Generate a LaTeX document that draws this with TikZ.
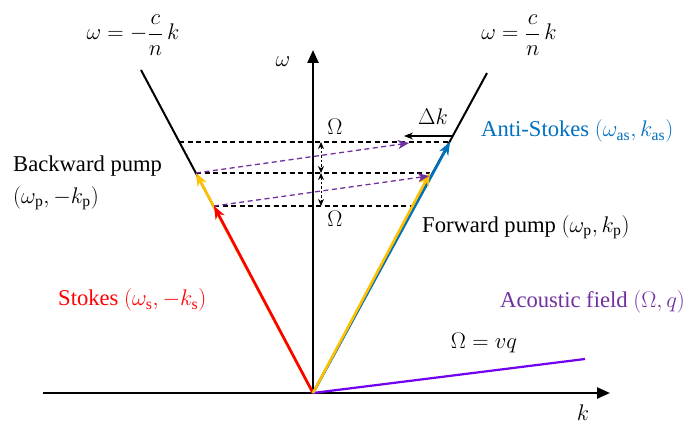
\documentclass[tikz,border=0pt]{standalone}
\usepackage{amsmath}
\usepackage{fontspec}
\setmainfont{Liberation Serif}
\usetikzlibrary{arrows.meta}
\definecolor{cred}{RGB}{255,0,0}
\definecolor{cyel}{RGB}{255,192,0}
\definecolor{cblue}{RGB}{0,112,192}
\definecolor{cpur}{RGB}{112,48,160}
\definecolor{cvio}{RGB}{112,0,240}
\tikzset{
  lbl/.style={inner sep=0pt,font=\fontsize{20.74}{25}\selectfont,scale=1.09,transform shape},
  axisline/.style={line width=2.4pt,-{Triangle[length=13pt,width=11pt]}},
  lightline/.style={line width=2pt},
  vec/.style={line width=2.6pt,-{Stealth[length=13pt,width=10pt,inset=4pt]}},
  hdash/.style={dashed,line width=1.1pt,dash pattern=on 5pt off 3.5pt},
  pdash/.style={cpur,line width=1.3pt,dash pattern=on 5pt off 3.5pt,-{Stealth[length=11pt,width=9pt,inset=3pt]}},
  smallarr/.style={line width=0.9pt,dash pattern=on 2.5pt off 2pt,{Stealth[length=7pt,width=6pt]}-{Stealth[length=7pt,width=6pt]}},
}
\begin{document}
\begin{tikzpicture}[x=1pt,y=-1pt]
\useasboundingbox (0,0) rectangle (700,430);
% key points
\coordinate (O) at (313,393);
\coordinate (kL) at (43,393);
\coordinate (kR) at (610,393);
\coordinate (wT) at (313,50);
\coordinate (LT) at (141,70);
\coordinate (RT) at (487,73);
\coordinate (BP) at (196,173);
\coordinate (S) at (214,206);
\coordinate (FP) at (430,173);
\coordinate (AS) at (450,142);
\coordinate (TL) at (179,142);
\coordinate (BR) at (412,206);
\coordinate (AC) at (585,359);
\coordinate (P1) at (409,143);
\coordinate (P2) at (429,176);
\coordinate (DkR) at (452,136);
\coordinate (DkL) at (404,136);
\coordinate (U1) at (321,142);
\coordinate (U2) at (321,173);
\coordinate (U3) at (321,206);
% light lines
\draw[lightline] (O) -- (LT);
\draw[lightline] (O) -- (RT);
% dashed horizontals
\draw[hdash] (TL) -- (AS);
\draw[hdash] (BP) -- (FP);
\draw[hdash] (S) -- (BR);
% axes
\draw[axisline] (kL) -- (kR);
\draw[axisline] (O) -- (wT);
% acoustic line
\draw[cvio,line width=2.2pt] (O) -- (AC);
% vectors
\draw[vec,cyel] (O) -- (BP);
\draw[vec,cred] (O) -- (S);
\draw[vec,cblue] (O) -- (AS);
\draw[vec,cyel] (O) -- (FP);
% purple dashed arrows
\draw[pdash] (BP) -- (P1);
\draw[pdash] (S) -- (P2);
% small double arrows
\draw[smallarr] (U1) -- (U2);
\draw[smallarr] (U2) -- (U3);
% delta k
\draw[line width=1.1pt,-{Stealth[length=9pt,width=7pt]}] (DkR) -- (DkL);
% labels
\node[lbl] (eqL) at (133,35) {$\omega=-\dfrac{c}{n}\,k$};
\node[lbl] (eqR) at (519,35) {$\omega=\dfrac{c}{n}\,k$};
\node[lbl] (wlab) at (283,62) {$\omega$};
\node[lbl] (klab) at (583,413) {$k$};
\node[lbl] (Om1) at (335,127) {$\Omega$};
\node[lbl] (Om2) at (335,219) {$\Omega$};
\node[lbl] (dk) at (433,117) {$\Delta k$};
\node[lbl,anchor=west,text=cblue] (aslab) at (481,131) {Anti-Stokes $(\omega_{\mathrm{as}},k_{\mathrm{as}})$};
\node[lbl,anchor=west] (bplab1) at (13,166) {Backward pump};
\node[lbl,anchor=west] (bplab2) at (13,198) {$(\omega_{\mathrm{p}},-k_{\mathrm{p}})$};
\node[lbl,anchor=west] (fplab) at (422,227) {Forward pump $(\omega_{\mathrm{p}},k_{\mathrm{p}})$};
\node[lbl,anchor=west,text=cred] (slab) at (58,300) {Stokes $(\omega_{\mathrm{s}},-k_{\mathrm{s}})$};
\node[lbl,anchor=west,text=cpur] (aclab) at (500,302) {Acoustic field $(\Omega,q)$};
\node[lbl] (omvq) at (484,343) {$\Omega=vq$};
\end{tikzpicture}
\end{document}
